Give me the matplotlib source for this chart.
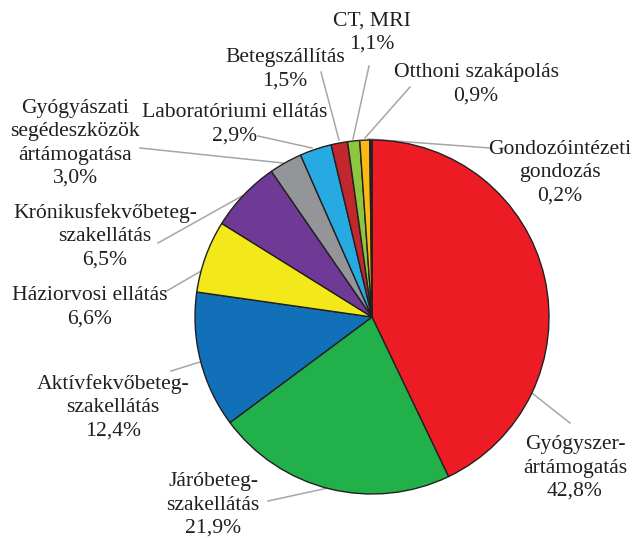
import matplotlib
matplotlib.use("Agg")
import matplotlib.pyplot as plt

plt.rcParams['font.family'] = ['Liberation Serif', 'DejaVu Serif']

# data
labels = ['Gyógyszer-\nártámogatás', 'Járóbeteg-\nszakellátás',
          'Aktívfekvőbeteg-\nszakellátás', 'Háziorvosi ellátás',
          'Krónikusfekvőbeteg-\nszakellátás',
          'Gyógyászati\nsegédeszközök\nártámogatása',
          'Laboratóriumi ellátás', 'Betegszállítás', 'CT, MRI',
          'Otthoni szakápolás', 'Gondozóintézeti\ngondozás']
shares = [42.8, 21.9, 12.4, 6.6, 6.5, 3.0, 2.9, 1.5, 1.1, 0.9, 0.2]
colors = ['#ED1C24', '#22B04B', '#1170B8', '#F2E81A', '#6E3A96', '#939598',
          '#27AAE1', '#C1272D', '#8DC63F', '#FDB913', '#1B2654']

# layout (pixel positions of label centres and leader lines)
PX = 177.0
CX, CY = 372.0, 317.0
label_px = [(575, 468), (213, 505), (113, 407), (90, 307.5), (105, 236),
            (75, 143.5), (235, 124.5), (285, 69.5), (372, 32.5),
            (476, 84.5), (560, 173)]
leader_px = [((518, 382), (570, 423)), ((328, 488), (268, 501)),
             ((200, 362), (171, 371)), ((220, 260), (165, 292)),
             ((242, 196), (158, 243)), ((283, 163), (140, 148)),
             ((312, 148), (258, 136)), ((339, 140), (321, 72)),
             ((353, 139), (369, 66)), ((365, 138), (410, 87)),
             ((368, 139), (490, 148))]


def d(p):
    return ((p[0] - CX) / PX, (CY - p[1]) / PX)


fig = plt.figure(figsize=(6.33, 5.38), dpi=100)
ax = fig.add_axes([0, 0, 1, 1])
ax.pie(shares, colors=colors, startangle=90, counterclock=False, radius=1.0,
       wedgeprops=dict(edgecolor='#231F20', linewidth=1.0))

for (a, b) in leader_px:
    p, q = d(a), d(b)
    ax.plot([p[0], q[0]], [p[1], q[1]], color='#A6A6A6', lw=1.1, zorder=0)

for lab, s, pos in zip(labels, shares, label_px):
    x, y = d(pos)
    txt = lab + '\n' + ('%.1f' % s).replace('.', ',') + '%'
    ax.text(x, y, txt, ha='center', va='center', fontsize=15.6,
            linespacing=1.3, color='#231F20')

ax.set_xlim(-CX / PX, (633 - CX) / PX)
ax.set_ylim((CY - 538) / PX, CY / PX)
ax.set_aspect('auto')
ax.axis('off')
fig.savefig('out.png', dpi=100)
